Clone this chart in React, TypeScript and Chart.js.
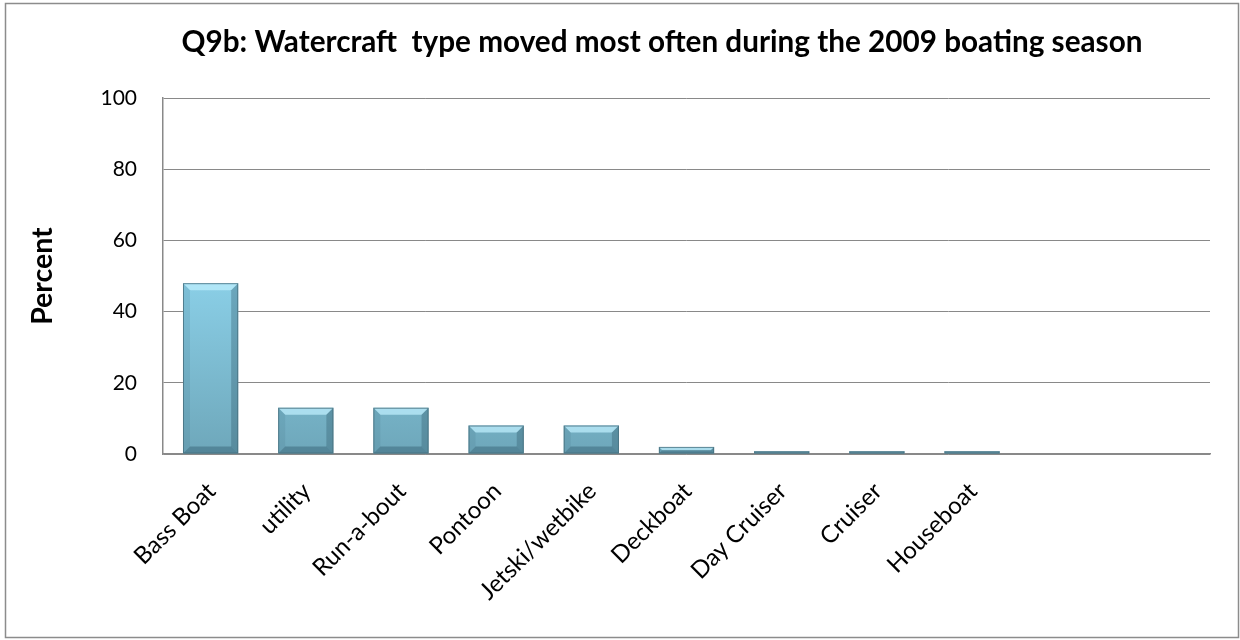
import React, { useEffect, useRef } from "react";
import { Chart, registerables } from "chart.js";

Chart.register(...registerables);

const categories: string[] = [
  "Bass Boat",
  "utility",
  "Run-a-bout",
  "Pontoon",
  "Jetski/wetbike",
  "Deckboat",
  "Day Cruiser",
  "Cruiser",
  "Houseboat",
  "",
  "",
];
const percentValues: (number | null)[] = [48, 13, 13, 8, 8, 2, 0.8, 0.8, 0.8, null, null];
const yTicksMin = 0;
const yTicksMax = 100;
const yTickStep = 20;
const titleText = "Q9b: Watercraft  type moved most often during the 2009 boating season";
const yAxisTitle = "Percent";

const FONT = "Lato, 'Open Sans', sans-serif";
const GRID = "#898989";

const framePlugin = {
  id: "frame",
  beforeDraw(chart: any) {
    const ctx = chart.ctx;
    ctx.save();
    ctx.fillStyle = "#ffffff";
    ctx.fillRect(0, 0, chart.width, chart.height);
    ctx.strokeStyle = "#8c8c8c";
    ctx.lineWidth = 1.5;
    ctx.strokeRect(5.5, 3.5, chart.width - 7, chart.height - 6);
    ctx.restore();
  },
};

const bevelPlugin = {
  id: "bevel",
  afterDatasetsDraw(chart: any) {
    const ctx = chart.ctx;
    const meta = chart.getDatasetMeta(0);
    meta.data.forEach((el: any, i: number) => {
      const v = percentValues[i];
      if (v == null) return;
      const { x, y, base, width } = el.getProps(["x", "y", "base", "width"], true);
      const l = x - width / 2;
      const r = x + width / 2;
      const t = Math.min(y, base);
      const b = Math.max(y, base);
      const h = b - t;
      const bev = Math.min(7, h / 2, width / 4);
      ctx.save();
      ctx.beginPath();
      ctx.moveTo(l, t);
      ctx.lineTo(r, t);
      ctx.lineTo(r - bev, t + bev);
      ctx.lineTo(l + bev, t + bev);
      ctx.closePath();
      ctx.fillStyle = "rgba(190,238,252,0.75)";
      ctx.fill();
      ctx.beginPath();
      ctx.moveTo(l, b);
      ctx.lineTo(r, b);
      ctx.lineTo(r - bev, b - bev);
      ctx.lineTo(l + bev, b - bev);
      ctx.closePath();
      ctx.fillStyle = "rgba(40,80,98,0.38)";
      ctx.fill();
      ctx.beginPath();
      ctx.moveTo(l, t);
      ctx.lineTo(l + bev, t + bev);
      ctx.lineTo(l + bev, b - bev);
      ctx.lineTo(l, b);
      ctx.closePath();
      ctx.fillStyle = "rgba(60,110,130,0.15)";
      ctx.fill();
      ctx.beginPath();
      ctx.moveTo(r, t);
      ctx.lineTo(r - bev, t + bev);
      ctx.lineTo(r - bev, b - bev);
      ctx.lineTo(r, b);
      ctx.closePath();
      ctx.fillStyle = "rgba(35,75,92,0.3)";
      ctx.fill();
      ctx.strokeStyle = "rgba(70,110,125,0.8)";
      ctx.lineWidth = 1;
      ctx.strokeRect(l + 0.5, t + 0.5, width - 1, h - 1);
      ctx.restore();
    });
  },
};

export default function App() {
  const ref = useRef<HTMLCanvasElement | null>(null);

  useEffect(() => {
    const canvas = ref.current;
    if (!canvas) return;
    const chart = new Chart(canvas, {
      type: "bar",
      data: {
        labels: categories,
        datasets: [
          {
            label: yAxisTitle,
            data: percentValues as any,
            backgroundColor: (c: any) => {
              const area = c.chart.chartArea;
              if (!area) return "#7fc0d6";
              const g = c.chart.ctx.createLinearGradient(0, area.top, 0, area.bottom);
              g.addColorStop(0, "#9adcf2");
              g.addColorStop(0.5, "#8bd0e8");
              g.addColorStop(1, "#6ea7ba");
              return g;
            },
            borderWidth: 0,
            barPercentage: 1,
            categoryPercentage: 0.58,
          },
        ],
      },
      options: {
        responsive: false,
        animation: false,
        devicePixelRatio: 1,
        layout: { padding: { left: 90, right: 6, top: 0, bottom: 0 } },
        plugins: {
          legend: { display: false },
          tooltip: { enabled: false },
          title: {
            display: true,
            text: titleText,
            color: "#000000",
            font: { family: FONT, size: 29.7, weight: "bold", lineHeight: 1.2 },
            padding: { top: 24.5, bottom: 38 },
          },
        },
        scales: {
          y: {
            min: yTicksMin,
            max: yTicksMax,
            ticks: {
              stepSize: yTickStep,
              color: "#000000",
              font: { family: FONT, size: 21 },
              padding: 26,
            },
            grid: { color: GRID, lineWidth: 1, drawTicks: false },
            border: { color: GRID, width: 1.5 },
            title: {
              display: true,
              text: yAxisTitle,
              color: "#000000",
              font: { family: FONT, size: 28.5, weight: "bold", lineHeight: 1.2 },
              padding: { top: -64, bottom: 0 },
            },
            afterFit: (s: any) => {
              s.width = 73;
            },
          },
          yRight: {
            position: "right",
            display: true,
            min: yTicksMin,
            max: yTicksMax,
            ticks: { display: false },
            grid: { display: false, drawTicks: false },
            border: { display: false },
            afterFit: (s: any) => {
              s.width = 24;
            },
          },
          x: {
            ticks: {
              color: "#000000",
              font: { family: FONT, size: 24 },
              minRotation: 45,
              maxRotation: 45,
              autoSkip: false,
              padding: 23,
              labelOffset: 1,
            },
            grid: { display: false, drawTicks: false },
            border: { color: GRID, width: 1.5 },
            afterFit: (s: any) => {
              s.height = 186;
            },
          },
        },
      },
      plugins: [framePlugin, bevelPlugin],
    });
    return () => chart.destroy();
  }, []);

  return (
    <div style={{ position: "absolute", left: 0, top: 0, width: 1240, height: 640 }}>
      <canvas ref={ref} width={1240} height={640} style={{ display: "block" }} />
    </div>
  );
}
